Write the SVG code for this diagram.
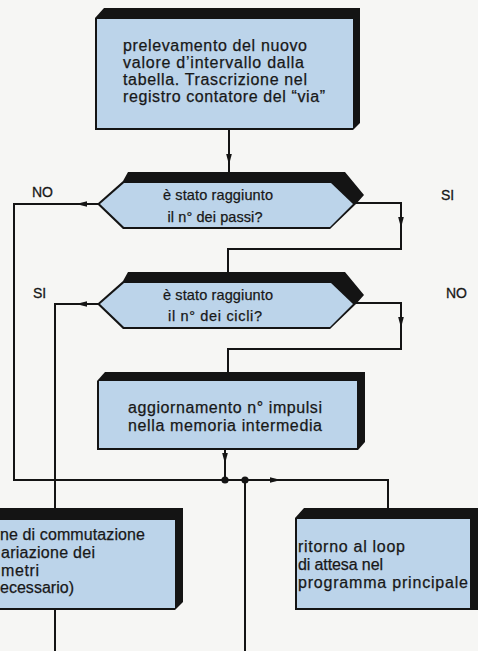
<svg xmlns="http://www.w3.org/2000/svg" xmlns:xlink="http://www.w3.org/1999/xlink" width="478" height="651" viewBox="0 0 478 651">
<style>
.sh{fill:#141414}
.fc{fill:#bcd4ea}
.t{font-family:"Liberation Sans",Arial,sans-serif;font-size:16px;fill:#181818;stroke:#181818;stroke-width:0.25}
.d{font-family:"Liberation Sans",Arial,sans-serif;font-size:14.5px;fill:#181818;stroke:#181818;stroke-width:0.25;text-anchor:middle}
.l{font-family:"Liberation Sans",Arial,sans-serif;font-size:14px;fill:#181818;stroke:#181818;stroke-width:0.3}
.c{fill:none;stroke:#141414;stroke-width:2}
.ah{fill:#141414}
</style>
<defs>
<path id="arr" d="M0,0 L-2.8,-11 L2.8,-11 Z"/>
</defs>
<rect x="0" y="0" width="478" height="651" fill="#f6f6f4"/>

<g id="connectors">
<path class="c" d="M229,130 V173"/>
<path class="c" d="M356,203 H401 V249 H228 V273"/>
<path class="c" d="M98,204 H14 V480 H388 V509"/>
<path class="c" d="M98,304 H55 V509"/>
<path class="c" d="M356,303 H401 V349 H228 V373"/>
<path class="c" d="M225,450 V480"/>
<path class="c" d="M245,480 V651"/>
<path class="c" d="M55,610 V651"/>
<use xlink:href="#arr" class="ah" transform="translate(229,165)"/>
<use xlink:href="#arr" class="ah" transform="translate(76,204) rotate(90)"/>
<use xlink:href="#arr" class="ah" transform="translate(401,228)"/>
<use xlink:href="#arr" class="ah" transform="translate(76,304) rotate(90)"/>
<use xlink:href="#arr" class="ah" transform="translate(401,328)"/>
<use xlink:href="#arr" class="ah" transform="translate(225,464)"/>
<use xlink:href="#arr" class="ah" transform="translate(281,480) rotate(-90)"/>
<circle cx="225" cy="480" r="3.6" fill="#141414"/>
<circle cx="245" cy="480" r="3.6" fill="#141414"/>
</g>

<g id="labels">
<text class="l" x="32" y="197">NO</text>
<text class="l" x="441" y="200">SI</text>
<text class="l" x="33" y="298">SI</text>
<text class="l" x="446" y="298">NO</text>
</g>

<g id="node-prelevamento">
<polygon class="sh" points="95,18 104,8 360,8 360,123 353,130 95,130"/>
<rect class="fc" x="97" y="19" width="256" height="109"/>
<text class="t" x="123" y="51" textLength="184" lengthAdjust="spacing">prelevamento del nuovo</text>
<text class="t" x="123" y="68" textLength="181" lengthAdjust="spacing">valore d’intervallo dalla</text>
<text class="t" x="123" y="85" textLength="184" lengthAdjust="spacing">tabella. Trascrizione nel</text>
<text class="t" x="123" y="102" textLength="202" lengthAdjust="spacing">registro contatore del “via”</text>
</g>

<g id="node-passi">
<polygon class="sh" points="97,204 123,181 128,172 345,172 364,195 356,204 330,229 123,229"/>
<polygon class="fc" points="100,204 124,183 331,183 353,204 330,227 124,227"/>
<text class="d" x="218" y="200" textLength="110" lengthAdjust="spacing">è stato raggiunto</text>
<text class="d" x="215" y="222" textLength="95" lengthAdjust="spacing">il n° dei passi?</text>
</g>

<g id="node-cicli">
<polygon class="sh" points="97,304 123,281 128,272 345,272 364,295 356,304 330,329 123,329"/>
<polygon class="fc" points="100,304 124,283 331,283 353,304 330,327 124,327"/>
<text class="d" x="218" y="300" textLength="110" lengthAdjust="spacing">è stato raggiunto</text>
<text class="d" x="215" y="321" textLength="94" lengthAdjust="spacing">il n° dei cicli?</text>
</g>

<g id="node-aggiornamento">
<polygon class="sh" points="97,381 105,372 365,372 365,442 358,450 97,450"/>
<rect class="fc" x="99" y="381" width="258" height="67"/>
<text class="t" x="128" y="413" textLength="194" lengthAdjust="spacing">aggiornamento n° impulsi</text>
<text class="t" x="128" y="431" textLength="194" lengthAdjust="spacing">nella memoria intermedia</text>
</g>

<g id="node-commutazione">
<polygon class="sh" points="-5,520 -5,508 183,508 183,602 175,610 -5,610"/>
<rect class="fc" x="-5" y="520" width="180" height="88"/>
<text class="t" x="0" y="540" textLength="145" lengthAdjust="spacing">ne di commutazione</text>
<text class="t" x="1" y="557.5" textLength="94" lengthAdjust="spacing">ariazione dei</text>
<text class="t" x="1" y="575.5" textLength="38" lengthAdjust="spacing">metri</text>
<text class="t" x="0" y="593" textLength="74" lengthAdjust="spacing">ecessario)</text>
</g>

<g id="node-ritorno">
<polygon class="sh" points="295,518 304,508 478,508 478,610 295,610"/>
<rect class="fc" x="297" y="519" width="173" height="89"/>
<text class="t" x="298" y="552" textLength="107" lengthAdjust="spacing">ritorno al loop</text>
<text class="t" x="298" y="570" textLength="85" lengthAdjust="spacing">di attesa nel</text>
<text class="t" x="298" y="588" textLength="170" lengthAdjust="spacing">programma principale</text>
</g>
</svg>
